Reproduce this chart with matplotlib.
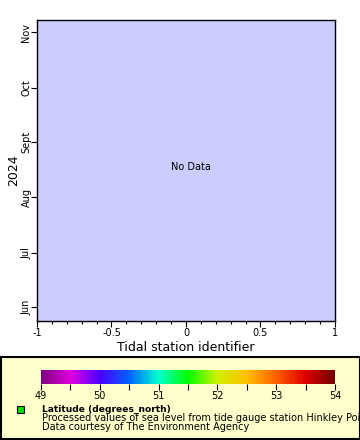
import datetime as dt
import matplotlib
matplotlib.use('Agg')
import matplotlib.pyplot as plt
import matplotlib.dates as mdates
from matplotlib.colors import LinearSegmentedColormap, Normalize
from matplotlib.cm import ScalarMappable
from matplotlib.patches import Rectangle
from matplotlib.ticker import MultipleLocator

plt.rcParams['font.family'] = 'DejaVu Sans'

# axis content
month_ticks = [dt.datetime(2024, m, 1) for m in (6, 7, 8, 9, 10, 11)]
month_labels = ['Jun', 'Jul', 'Aug', 'Sept', 'Oct', 'Nov']
y_range = [dt.datetime(2024, 5, 24, 4), dt.datetime(2024, 11, 7, 20)]
x_range = [-1, 1]
x_ticks = [-1, -0.5, 0, 0.5, 1]
x_ticklabels = ['-1', '-0.5', '0', '0.5', '1']

# colour bar (latitude)
cbar_range = [49, 54]
cbar_ticks = [49, 50, 51, 52, 53, 54]
cbar_colors = ['#800080', '#e000e0', '#4a00ff', '#0064ff', '#00ffd0', '#00ff00',
               '#d0f000', '#ffc000', '#ff6000', '#e00000', '#700000']

fig = plt.figure('figure 1', figsize=(3.6, 4.4), dpi=100)

W, H = 360.0, 440.0
ax = fig.add_axes([37 / W, 1 - 321 / H, (335 - 37) / W, (321 - 20) / H])
ax.set_facecolor('#ccccff')
ax.set_xlim(x_range)
ax.set_ylim(mdates.date2num(y_range[0]), mdates.date2num(y_range[1]))
ax.set_xticks(x_ticks)
ax.set_xticklabels(x_ticklabels)
ax.xaxis.set_minor_locator(MultipleLocator(0.1))
ax.set_yticks(mdates.date2num(month_ticks))
ax.set_yticklabels(month_labels, rotation=90, va='center')
ax.tick_params(axis='both', which='major', labelsize=7, length=4, width=0.8, pad=1)
ax.tick_params(axis='y', which='major', pad=0)
ax.tick_params(axis='x', which='minor', length=2.5, width=0.8)
for s in ax.spines.values():
    s.set_linewidth(1.0)
ax.set_xlabel('Tidal station identifier', fontsize=9, labelpad=2)
ax.set_ylabel('2024', fontsize=9, labelpad=1)
ax.text(0.03, mdates.date2num(dt.datetime(2024, 8, 18)), 'No Data', fontsize=7,
        ha='center', va='center')

# legend box
fig.patches.append(Rectangle((0.5 / W, 1 - 439 / H), 359 / W, (439 - 357) / H,
                             transform=fig.transFigure, facecolor='#ffffcc',
                             edgecolor='black', linewidth=1.5, zorder=-5))

cmap = LinearSegmentedColormap.from_list('lat', cbar_colors)
cax = fig.add_axes([41 / W, 1 - 384 / H, (335 - 41) / W, (384 - 370) / H])
cax.set_zorder(5)
cb = fig.colorbar(ScalarMappable(norm=Normalize(*cbar_range), cmap=cmap),
                  cax=cax, orientation='horizontal')
cb.outline.set_visible(False)
cb.set_ticks(cbar_ticks)
cb.ax.xaxis.set_minor_locator(MultipleLocator(0.5))
cb.ax.tick_params(which='major', labelsize=7, length=4, width=0.8, pad=1)
cb.ax.tick_params(which='minor', length=4, width=0.8)

fig.patches.append(Rectangle((17 / W, 1 - 413 / H), 7 / W, 7 / H,
                             transform=fig.transFigure, facecolor='#00dd00',
                             edgecolor='black', linewidth=0.8, zorder=6))
fig.text(42 / W, 1 - 409 / H, 'Latitude (degrees_north)', fontsize=6.6,
         fontweight='bold', va='center')
fig.text(42 / W, 1 - 418 / H,
         'Processed values of sea level from tide gauge station Hinkley Point',
         fontsize=7, va='center')
fig.text(42 / W, 1 - 427 / H, 'Data courtesy of The Environment Agency',
         fontsize=7, va='center')

fig.savefig('out.png', dpi=100)
